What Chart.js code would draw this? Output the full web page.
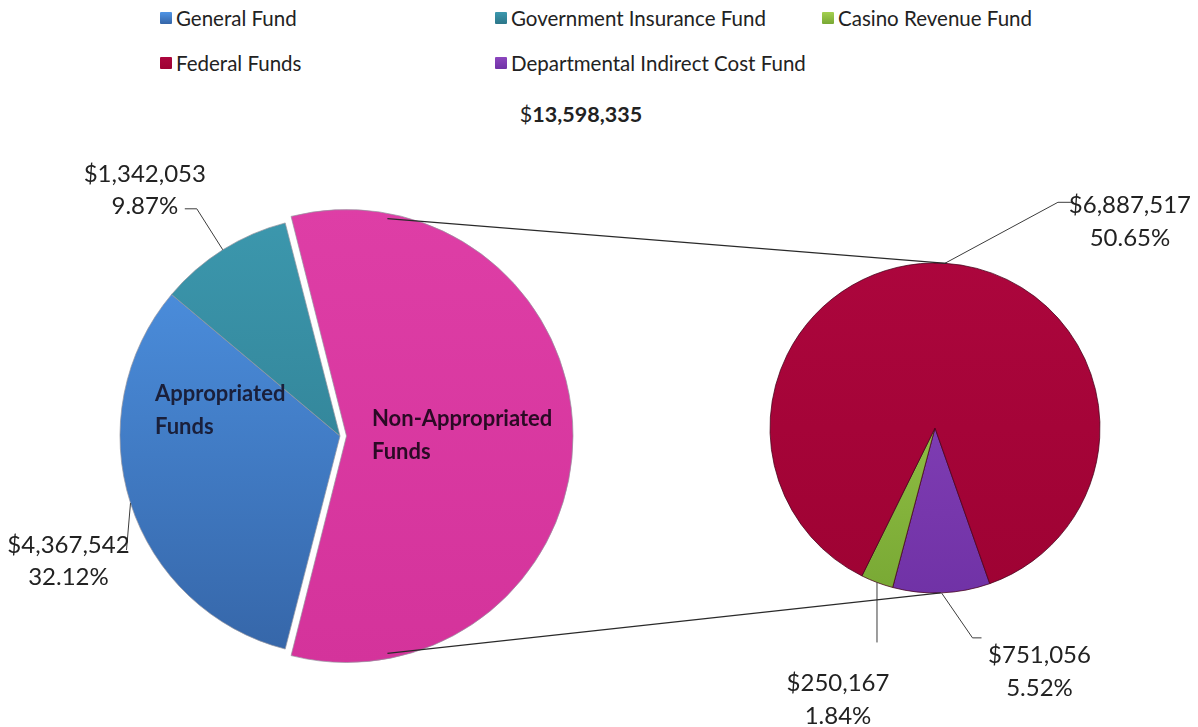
<!DOCTYPE html>
<html>
<head>
<meta charset="utf-8">
<script src="https://cdn.jsdelivr.net/npm/chart.js@4.4.1/dist/chart.umd.min.js"></script>
<style>
  html, body { margin: 0; padding: 0; background: #fff; }
  #page { position: relative; width: 1198px; height: 727px; overflow: hidden; font-family: Lato, 'Open Sans', sans-serif; color: #222; }
  #page canvas { position: absolute; left: 0; top: 0; }
  .legend-item { position: absolute; display: flex; align-items: center; font-size: 20.5px; white-space: nowrap; transform: translateY(-50%); }
  .swatch { width: 12px; height: 12px; margin-right: 4px; border-radius: 1px; }
  #total { position: absolute; left: 0; width: 1162px; top: 101px; text-align: center; font-size: 21.5px; }
</style>
</head>
<body>
<div id="page">
  <div id="legend"></div>
  <div id="total"></div>
  <canvas id="main-pie" width="1198" height="727"></canvas>
  <canvas id="sub-pie" width="1198" height="727"></canvas>
</div>
<script>
// Data
const mainLabels = ['General Fund', 'Government Insurance Fund', 'Non-Appropriated Funds'];
const mainValues = [4367542, 1342053, 7888740];
const subLabels = ['Departmental Indirect Cost Fund', 'Casino Revenue Fund', 'Federal Funds'];
const subValues = [751056, 250167, 6887517];
const legendLabels = ['General Fund', 'Government Insurance Fund', 'Casino Revenue Fund', 'Federal Funds', 'Departmental Indirect Cost Fund'];
const groupLabels = [['Appropriated', 'Funds'], ['Non-Appropriated', 'Funds']];
const totalValue = 13598335;

// Colours (top, bottom of the slice shading)
const fundColors = {
  'General Fund': ['#4f95e6', '#3565a7'],
  'Government Insurance Fund': ['#3c98ae', '#2c7689'],
  'Non-Appropriated Funds': ['#de3ea6', '#d4339b'],
  'Federal Funds': ['#ac063d', '#9e0233'],
  'Casino Revenue Fund': ['#a4d050', '#78a834'],
  'Departmental Indirect Cost Fund': ['#8c46be', '#7032a6']
};

// Helpers
function money(v) { return '$' + v.toLocaleString('en-US'); }
function pct(v) { return (v / totalValue * 100).toFixed(2) + '%'; }

function sliceFill(ctx) {
  const chart = ctx.chart;
  const area = chart.chartArea;
  const pair = fundColors[chart.data.labels[ctx.dataIndex]];
  if (!area) return pair[0];
  const g = chart.ctx.createLinearGradient(0, area.top, 0, area.bottom);
  g.addColorStop(0, pair[0]);
  g.addColorStop(1, pair[1]);
  return g;
}

// shift that Chart.js v4 applies to an exploded arc
function arcShift(arc) {
  const off = (arc.options.offset || 0) / 4;
  const fix = 1 - Math.sin(Math.min(Math.PI, arc.circumference || 0));
  return off + off * fix;
}

// point on an arc's rim; angle in compass degrees (0 = top, clockwise)
function rimPoint(arc, deg) {
  const a = (deg - 90) * Math.PI / 180;
  const mid = (arc.startAngle + arc.endAngle) / 2;
  const off = arcShift(arc);
  const cx = arc.x + Math.cos(mid) * off;
  const cy = arc.y + Math.sin(mid) * off;
  return { x: cx + Math.cos(a) * arc.outerRadius, y: cy + Math.sin(a) * arc.outerRadius };
}
function midDeg(arc) {
  return ((arc.startAngle + arc.endAngle) / 2) * 180 / Math.PI + 90;
}

// Plugins
const calloutPlugin = {
  id: 'callouts',
  afterDatasetsDraw(chart, args, opts) {
    const ctx = chart.ctx;
    const arcs = chart.getDatasetMeta(0).data;
    const values = chart.data.datasets[0].data;
    ctx.save();
    ctx.strokeStyle = '#3c3c3c';
    ctx.lineWidth = 1;
    ctx.font = opts.font;
    ctx.fillStyle = '#222';
    ctx.textAlign = 'center';
    ctx.textBaseline = 'middle';
    opts.spots.forEach(spot => {
      const arc = arcs[spot.index];
      const p = rimPoint(arc, midDeg(arc));
      const ex = p.x + spot.elbow[0], ey = p.y + spot.elbow[1];
      ctx.beginPath();
      ctx.moveTo(p.x, p.y);
      ctx.lineTo(ex, ey);
      if (spot.tail) ctx.lineTo(ex + spot.tail, ey);
      ctx.stroke();
      const v = values[spot.index];
      ctx.fillText(money(v), ex + spot.text[0], ey + spot.text[1]);
      ctx.fillText(pct(v), ex + spot.text[0], ey + spot.text[1] + opts.gap);
    });
    ctx.restore();
  }
};

const groupNamePlugin = {
  id: 'groupNames',
  afterDatasetsDraw(chart, args, opts) {
    if (!opts.items) return;
    const ctx = chart.ctx;
    const arc = chart.getDatasetMeta(0).data[0];
    ctx.save();
    ctx.font = opts.font;
    ctx.textAlign = 'left';
    ctx.textBaseline = 'middle';
    opts.items.forEach(item => {
      ctx.fillStyle = item.color;
      item.lines.forEach((line, i) => {
        ctx.fillText(line, arc.x + item.at[0], arc.y + item.at[1] + i * opts.gap);
      });
    });
    ctx.restore();
  }
};

const connectorPlugin = {
  id: 'connectors',
  afterDraw(chart, args, opts) {
    const from = opts.source.getDatasetMeta(0).data[opts.sourceIndex];
    const toArc = chart.getDatasetMeta(0).data[0];
    const ctx = chart.ctx;
    ctx.save();
    ctx.strokeStyle = '#2a2a2a';
    ctx.lineWidth = 1.2;
    [[9, 4], [171, 178]].forEach(([a, b]) => {
      const p = rimPoint(from, a);
      const q = { x: toArc.x + Math.sin(b * Math.PI / 180) * toArc.outerRadius, y: toArc.y - Math.cos(b * Math.PI / 180) * toArc.outerRadius };
      ctx.beginPath();
      ctx.moveTo(p.x, p.y);
      ctx.lineTo(q.x, q.y);
      ctx.stroke();
    });
    ctx.restore();
  }
};

// Legend + total
const legendCols = [160, 495, 822];
const legendRows = [18, 63];
legendLabels.forEach((label, i) => {
  const c = fundColors[label];
  const item = document.createElement('div');
  item.className = 'legend-item';
  item.style.left = legendCols[i % 3] + 'px';
  item.style.top = legendRows[Math.floor(i / 3)] + 'px';
  item.innerHTML = `<span class="swatch" style="background: linear-gradient(${c[0]}, ${c[1]});"></span>${label}`;
  document.getElementById('legend').appendChild(item);
});
document.getElementById('total').innerHTML = '$<b>' + totalValue.toLocaleString('en-US') + '</b>';

// Charts
const nonApprFrac = mainValues[2] / mainValues.reduce((a, b) => a + b, 0);

const mainChart = new Chart(document.getElementById('main-pie'), {
  type: 'pie',
  data: {
    labels: mainLabels,
    datasets: [{
      data: mainValues,
      backgroundColor: sliceFill,
      borderColor: 'rgba(150,150,160,0.7)',
      borderWidth: 1,
      offset: [0, 0, 26],
      hoverOffset: 0
    }]
  },
  options: {
    responsive: false,
    animation: false,
    rotation: 90 + nonApprFrac * 180,
    radius: 220,
    layout: { padding: { left: 110, right: 628, top: 206, bottom: 61 } },
    plugins: {
      legend: { display: false },
      tooltip: { enabled: false },
      callouts: {
        font: '24px Lato, "Open Sans", sans-serif',
        gap: 32,
        spots: [
          { index: 0, elbow: [-4, 47], tail: 0, text: [-58, -5] },
          { index: 1, elbow: [-26, -41], tail: -12, text: [-52, -35] }
        ]
      },
      groupNames: {
        font: 'bold 22px Lato, "Open Sans", sans-serif',
        gap: 33,
        items: [
          { lines: groupLabels[0], at: [-185, -42], color: '#1a1f3a' },
          { lines: groupLabels[1], at: [32, -17], color: '#2a0a24' }
        ]
      }
    }
  },
  plugins: [calloutPlugin, groupNamePlugin]
});

const subChart = new Chart(document.getElementById('sub-pie'), {
  type: 'pie',
  data: {
    labels: subLabels,
    datasets: [{
      data: subValues,
      backgroundColor: sliceFill,
      borderColor: 'rgba(70,0,25,0.75)',
      borderWidth: 1,
      hoverOffset: 0
    }]
  },
  options: {
    responsive: false,
    animation: false,
    rotation: 160.6,
    radius: 165,
    layout: { padding: { left: 765, right: 93, top: 258, bottom: 129 } },
    plugins: {
      legend: { display: false },
      tooltip: { enabled: false },
      callouts: {
        font: '24px Lato, "Open Sans", sans-serif',
        gap: 33,
        spots: [
          { index: 2, elbow: [113, -61], tail: 14, text: [72, 3] },
          { index: 0, elbow: [31, 45], tail: 9, text: [67, 17] },
          { index: 1, elbow: [0, 60], tail: 0, text: [-39, 41] }
        ]
      },
      connectors: { source: mainChart, sourceIndex: 2 }
    }
  },
  plugins: [calloutPlugin, connectorPlugin]
});
</script>
</body>
</html>
